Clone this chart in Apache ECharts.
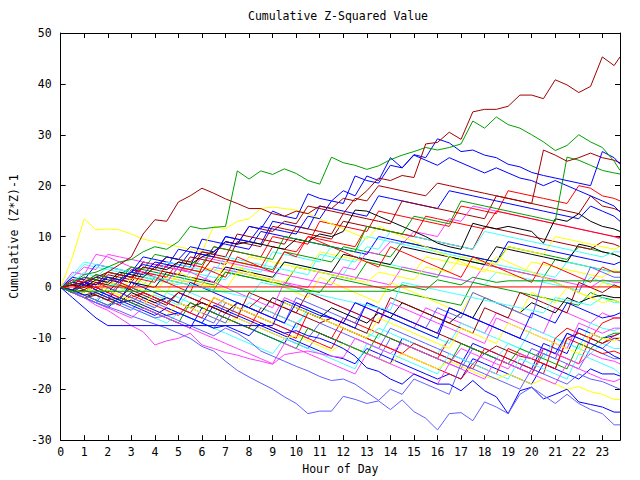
<!DOCTYPE html>
<html>
<head>
<meta charset="utf-8">
<script src="https://cdn.jsdelivr.net/npm/echarts@6/dist/echarts.min.js"></script>
<style>html,body{margin:0;padding:0;background:#fff;}#c{width:640px;height:480px;}</style>
</head>
<body>
<div id="c"></div>
<script>
// ---- data ----
const chartTitle = 'Cumulative Z-Squared Value';
const xName = 'Hour of Day';
const yName = 'Cumulative (Z*Z)-1';
const xTicks = [0,1,2,3,4,5,6,7,8,9,10,11,12,13,14,15,16,17,18,19,20,21,22,23];
const yTicks = [-30,-20,-10,0,10,20,30,40,50];
const hours = [0,0.5,1,1.5,2,2.5,3,3.5,4,4.5,5,5.5,6,6.5,7,7.5,8,8.5,9,9.5,10,10.5,11,11.5,12,12.5,13,13.5,14,14.5,15,15.5,16,16.5,17,17.5,18,18.5,19,19.5,20,20.5,21,21.5,22,22.5,23,23.5,23.75];

const s01 = [0,0.5,1,2,3,4.5,6,10.5, 13.3,13,16.8,18,19.5,18.5,17.4,16.5, 15.5,15.5,14.5,14,15,14.5,16,15.5, 17.5,17,19,21.5,21,22,21.6,28.2, 28.5,30.5,29.1,34.5,35,35,35.6,37.8, 37.8,37.1,40.8,39.8,38.3,39.5,45.3,43.6, 45.3];
const s02 = [0,1,2.5,3,4,5,5.5,7, 8,7.5,9,12,11.5,11.8,12,22.9, 21.3,22.9,22.2,23.3,22.4,21,20.3,25.6, 24.5,24,23.2,23.9,25.1,26,26.7,27.5, 27,27.5,28.2,32.7,31.3,33.5,32,31.3, 30,28.6,26.9,27.9,30,28.6,27.5,24.8, 23];
const s03 = [0,-0.5,1,0.5,2,1.5,3,4.5, 4,6,5.5,8,7.5,7,9,8.5, 12,11.5,15,14,13.5,18.4,17.5,17, 19,18,21.9,21,25.5,23.5,26.1,25.5, 29.2,28.4,26.7,27,26,25.5,24.2,23.7, 22.6,22,21.5,21,20.5,20,26.7,25.5, 24.2];
const s04 = [0,0.5,-0.5,1,0.5,2.5,2,4, 3.5,6,5.5,5,7,6.5,9,8.5, 12,11.5,11,13,12.5,16,15.5,15, 14.5,17.5,17,20,19.5,19,18.5,18, 20.5,20,19.5,19,18.5,18,17.5,17, 16.5,27,26,24.8,25.5,26.4,25.5,25, 24.5];
const s05 = [0,1,0.5,2,1.5,1,3,2.5, 5,4.5,4,7,6.5,6,10,9.5, 9,12,11.5,11,10.5,14,13.5,17, 16.5,21.9,21,20.5,24,23.5,26,25, 24,25.5,24.5,23.5,22.5,23.5,22.5,21.5, 21,20,21,20,19,18,17,16, 14.8];
const s06 = [0,-0.5,1,0.5,3,2.5,2,1.5, 1,4.5,4,3.5,3,6,5.5,5, 4.5,4,8,7.5,7,10,9.5,9, 8.5,8,12,11.5,11,10.5,10,14, 13.5,13,12.5,12,11.5,15,14.5,14, 13.5,13,12.5,12,11.5,11,10.5,10, 9.8];
const s07 = [0,0.5,0,1.5,1,3,2.5,2, 4,3.5,5,4.5,6,7,9,8.5, 9,8.5,8,7.5,9.5,9,10.5,10, 11,15.2,15,14,13,12,11,10, 8.7,8,7.5,12.6,12,11.5,12,11.5, 11,8.7,13.5,13,14.5,13,12,11.5, 11];
const s11 = [0,-1,-2,-3,-3.8,-4.6,-5.6,-6.4, -7.2,-8,-9,-10,-11.6,-12.5,-14.5,-16.3, -17.6,-18.8,-20,-21.5,-22.8,-24.8,-24.3,-24.3, -21.4,-22,-22.8,-22.3,-24,-22.1,-24.4,-25.7, -28,-24.8,-24.6,-26.2,-22.5,-23.5,-24.8,-21, -19.6,-21.2,-22.8,-21,-22.8,-24,-24.8,-27, -27];
const s12 = [0,-0.5,-1.5,-1,-2,-3,-2.5,-3.5, -4.5,-5.5,-5,-6,-7,-8,-7.5,-8.5, -9.5,-7,-8,-9,-8.5,-9.5,-10,-10.9, -12,-13.5,-15.8,-16.5,-18,-19,-17,-18, -19,-19,-20.3,-18.3,-20.3,-21.5,-24.8,-20.3, -19.6,-21.9,-21,-20,-22.5,-23,-23.5,-24.5, -24.5];
const s13 = [0,-1,-1.5,-2.5,-3.5,-3,-4,-5, -6,-5.5,-6.5,-7.5,-8.5,-9.5,-8,-9, -10.5,-12.5,-13.5,-14.5,-15.5,-16.4,-17.5,-18.3, -18,-19,-20.6,-22.2,-20,-21,-18,-19, -20,-21,-15,-16,-17,-18,-19,-20, -16,-17,-18,-19,-17,-18,-18.5,-19.5, -20];
const s14 = [0,6,13.5,11.3,11.5,11.3,10.5,9.5, 9,8.5,8,7.5,7,12,11.5,13, 13.5,15.5,15.8,15.5,15.2,14.5,13.5,12.5, 11.5,10.5,9.5,12,11,10,9,8, 7,6,5,4,3,6,5,4, 3,2,1,0,-1,-2,-3,-2.5, -3];
const s15 = [0,-1,-2,-3.5,-4.5,-6,-7.5,-8.7, -11.3,-10.5,-10,-9,-11.3,-12,-12.8,-13.3, -14,-14.5,-15.1,-13.2,-12.8,-12.5,-13,-13.5, -13.8,-10,-11,-12,-13,-11,-12,-13, -14,-15,-12,-13,-14,-15,-16,-13, -14,-12,-13,-14,-15,-13,-14,-14.5, -15];
const s16 = [0,0.5,-0.5,-1.5,1,0,-1,-2, -1.5,-2.5,-3.5,-1,-2,-3,-4,-5, -3,-4,-5,-6,-7,-5,-6,-7, -8,-9,-10,-8,-9,-10,-11,-12, -13,-10,-11,-12,-13,-14,-11,-12, -13,-14,-10,-11,-12,-13,-11,-12, -12];
const s17 = [0,-1,-0.5,-1.5,-2.5,-2,0,-1, -2,-3,-1,-2,-3,-4,-5,-3, -4,-2,-3,-4,-5,-6,-7,-6, -7,-8,-9,-4,-5,-6,-7,-8, -9,-10,-11,-12,-13,-11.5,-12.5,-13.5, -14,-15,-16,-10,-9,-10,-11,-10, -10];
const s18 = [0,-0.5,1.5,1,0,-1,-2,-1, -2,-3,-4,-5,-2,-3,-4,-5, -6,-7,-8,-9,-10,-5,-6,-7, -8,-9,-10,-11,-12,-13,-11,-12, -13,-14,-15,-16,-12,-13,-14,-15, -16,-17,-10,-8,-9,-10,-7,-6, -6];
const s19 = [0,1,2,1.5,3,2.5,4,3.5, 3,2.5,2,1.5,1,0.5,3,2.5, 2,1.5,1,0.5,0,-0.5,-1,2, 1.5,1,0.5,0,-0.5,-1,-1.5,-2, -2.5,-3,-3.5,1,0.5,0,-0.5,-1, -1.5,-2,-2.5,-3,-3.5,-1,-2,-2.5, -3];
const s20 = [0,2,4,3.5,6.5,6,5.5,5, 4.5,4,3.5,3,6,5.5,5,4.5, 4,3.5,3,2.5,2,1.5,1,0.5, 4,3.5,7,6.5,9,8.5,11,10.5, 10,13.5,13,16,15.5,15,14.5,14, 13.5,13,12.5,12,11.5,11,10.5,10, 9.5];
const s21 = [0,2,4.5,4,3.5,3,2.5,2, 1.5,1,0.5,3,2.5,2,1.5,4, 3.5,3,7,6.5,6,5.5,5,8, 7.5,7,10,9.5,9,8.5,8,7.5, 7,6.5,6,5.5,5,4.5,4,3.5, 3,2.5,2,5,4.5,4,3.5,3, 3];
const s22 = [0,-0.5,-1,1.5,1,0.5,0,-0.5, -1,2,1.5,1,0.5,0,-0.5,3, 2.5,2,1.5,1,4,3.5,3,2.5, 2,1.5,1,3,2.5,2,1.5,4, 3.5,3,6,5.5,5,4.5,8,7.5, 7,6.5,10,9.5,9,8.5,8,7.5, 8];
const s23 = [0,-1,0.5,-0.5,-1.5,-2.5,-3.5,-4.5, -5.5,-4,-5,-6,-7,-3.5,-4.5,-5.5, -6.5,-7.5,-8.5,-9.5,-10.5,-11.5,-12.5,-13.5, -14,-15,-12,-13,-14,-15,-16,-17, -18,-17,-18,-14,-15,-16,-17,-18, -19,-15,-16,-17,-18,-16,-17,-17, -17.4];
const s24 = [0,1,0,-1,-2,1,0,-1, -2,-3,-4,-5,-6,-7,-3,-4, -5,-6,-7,-8,-9,-10,-7,-8, -9,-10,-11,-12,-8,-9,-10,-11, -12,-13,-14,-15,-13,-14,-15,-16, -12,-13,-14,-9,-10,-11,-12,-10, -10.5];
const s25 = [0,-1,-2,-1,-2,-3,-1,-2, -3,-2,-3,-4,-3,-4,-5,-3, -4,-5,-2,-3,-4,-5,-6,-4, -5,-6,-7,-5,-6,-3,-4,-5, -6,-7,-5,-6,-2,-3,-4,-5, -3,-4,-5,-2,-3,-2,-1.5,-2, -2];
const s26 = [0,-1,1,2.5,2,1.5,4,3.5, 6.5,6,5.5,5,4.5,8,7.5,7, 6.5,6,5.5,10,9.5,9,8.5,8, 7.5,7,12,11.5,11,10.5,14,13.5, 13,12.5,17,16.5,16,15.5,15,14.5, 14,13.5,13,25.6,25,24,23,22.5, 22.3];
const s27 = [0,1.5,1,0,-1,-2,-3,-1, -2,-3,-4,-5,-6,-2,-3,-4, -5,-6,-7,-8,-9,-10,-11,-12, -8,-9,-10,-11,-12,-13,-14,-15, -16,-17,-18,-15,-16,-17,-12,-13, -14,-15,-16,-10,-11,-12,-13,-12.5, -13];
const s28 = [0,-1,-2,-3,-2,-3,-4,-5, -6,-7,-5,-6,-7,-8,-9,-10, -11,-12,-13,-10,-11,-12,-13,-14, -15,-16,-11,-12,-13,-14,-15,-16, -17,-13,-14,-15,-16,-17,-18,-14, -15,-16,-17,-18,-13,-14,-15,-16, -17];
const s29 = [0,3,2.5,6.5,6,5,4,3, 2,1,4,3,2,1,0,-1, -2,-3,-4,1,0,-1,-2,-3, -4,-5,-6,-7,-3,-4,-5,-6, -7,-8,-9,-10,-11,-6,-7,-8, -9,-10,-11,-12,-7,-8,-9,-8, -8];
const s30 = [0,-0.5,-1.5,-1,-2,-3,-2.5,-3.5, -4.5,-5.5,-3,-4,-5,-6,-7,-6, -7,-8,-9,-10,-9.5,-10.5,-11.5,-12.5, -11,-12,-13,-14,-15,-13,-14,-15, -16,-14.5,-15.5,-16.5,-17.5,-18,-17,-18, -19,-18,-19,-20,-19.5,-20.5,-21,-22, -22];
const s31 = [0,1,0,-1,-0.5,-1.5,2,1, 0,-1,3,2,1,0,5,4, 3,2,1,0,-1,-2,2,1, 0,-1,-2,-3,1,0,-1,-2, -3,-4,-5,-1,-2,-3,-4,-5, -1,-2,-3,0,-1,-2,1,0, 0];
const s32 = [0,-1,-2,-1.5,-2.5,0.5,-0.5,-1.5, -2.5,-3.5,-1,-2,-3,-4,-5,-6, -1,-2,-3,-4,-5,-1,-2,-3, -4,-5,-6,-7,-2,-3,-4,-5, -6,-7,-8,-9,-4,-5,-6,-1, -2,-3,-4,-5,1,0,-1,0.5, 0];
const s33 = [0,2,1.5,4.5,4,3.5,3,6, 5.5,5,4.5,4,9.5,9,8.5,8, 7.5,11,10.5,10,9.5,9,8.5,8, 7.5,7,6.5,10,9.5,9,8.5,8, 7.5,7,6.5,6,5.5,5,9,8.5, 8,7.5,7,6.5,6,5.5,5,4.5, 5];
const s34 = [0,-1,-2,-3,0,-1,-2,-3, -4,-2,-3,-4,-5,-6,-7,-3, -4,-5,-6,-7,-2,-3,-4,-5, -6,-7,-3,-4,-5,-6,-7,-8, -4,-5,-6,-1,-2,-3,-4,-5, -6,2,1,0,-1,4,3,2, 2];
const s35 = [0,-0.5,-1.5,-2.5,-3.5,-2,-3,-4, -5,-6,-7,-3,-4,-5,-6,-7, -8,-9,-10,-11,-12,-8,-9,-10, -11,-12,-13,-9,-10,-11,-12,-13, -14,-15,-11,-12,-13,-14,-15,-12, -13,-14,-15,-16,-11,-12,-10,-9, -9];
const s36 = [0,-1,-2,-3,-4,-5,-6,-4, -5,-6,-7,-8,-9,-10,-11,-12, -13,-14,-15,-11,-12,-13,-14,-15, -16,-17,-13,-14,-15,-16,-17,-18, -19,-15,-16,-17,-18,-14,-15,-16, -17,-18,-19,-15,-16,-17,-18,-18.5, -18];
const s37 = [0,1,3,2,4,3.5,3,2.5, 2,5,4.5,4,3.5,3,6,5.5, 5,4.5,4,3.5,3,2.5,6.5,6, 5.5,5,8,7.5,11,10.5,10,9.5, 9,8.5,8,7.5,11,10.5,10,9.5, 9,8.5,8,7.5,7,6.5,6,7, 7];
const s38 = [0,1,0.5,-0.5,2,1,0,3, 2,1,0,-1,4,3,2,6, 5,4,3,7,6,10,9,8, 7,6,5,4,8,7,6,5, 4,3,2,6,5,4,3,2, 1,5,4,3,2,1,4,3, 3];
const s39 = [0,-1,-2,0.5,-0.5,-1.5,-2.5,-3.5, -1,-2,-3,-4,-5,-2,-3,-4, -5,-6,-7,-3,-4,-5,-6,-7, -8,-9,-10,-6,-7,-8,-9,-10, -11,-12,-8,-9,-10,-11,-7,-8, -9,-10,-11,-12,-13,-9,-10,-10.5, -10];
const s40 = [0,0.5,1,-0.5,-1.5,-2.5,1,0, -1,-2,-3,1,0,-1,-2,-3, -4,-5,-6,-7,-3,-4,-5,-6, -7,-8,-3,-4,-5,-6,-7,-8, -9,-4,-5,-6,-7,-8,-9,-10, -5,-6,-7,-3,-4,-5,-6,-5.5, -5];
const s41 = [0,2.5,5,4.5,4,3.5,3,2.5, 2,1.5,1,0.5,0,-0.5,-1,-1.5, -2,1,0.5,0,-0.5,-1,-1.5,-2, -2.5,-3,-3.5,-4,-4.5,1,0.5,0, -0.5,-1,-1.5,-2,-2.5,-3,-3.5,-4, -4.5,-5,-2,-2.5,-3,-3.5,-2,-3, -3];
const s42 = [0,1.5,1,0.5,3,2.5,2,5, 4.5,4,7.5,7,6.5,6,10,9.5, 9,8.5,13,12.5,12,11.5,16,15.5, 15,14.5,14,18,17.5,17,16.5,16, 15.5,19,18.5,18,17.5,17,16.5,16, 15.5,15,14.5,14,13.5,16,15,14, 13];
const s43 = [0,-0.5,1,2.5,2,1.5,1,4, 3.5,3,2.5,6,5.5,5,4.5,9, 8.5,8,12,11.5,11,10.5,10,9.5, 13,12.5,12,11.5,11,10.5,10,9.5, 9,8.5,8,7.5,12,11.5,11,10.5, 10,9.5,9,8.5,8,7.5,9,8.5, 8];
const s44 = [0,0.5,2,1.5,1,0.5,3.5,3, 2.5,2,5,4.5,4,8,7.5,7, 6.5,6,10,9.5,9,8.5,13,12.5, 12,11.5,11,15,14.5,14,13.5,13, 12.5,12,16,15.5,15,14.5,19,18.5, 18,17.5,17,16.5,20,19.5,18,17.5, 17];
const s45 = [0,-0.5,-1,1,0.5,0,-0.5,2, 1.5,1,4,3.5,3,6,5.5,5, 4.5,4,3.5,7,6.5,6,5.5,5, 8,7.5,7,6.5,6,9,8.5,8, 7.5,7,6.5,6,5.5,5,8,7.5, 7,6.5,6,5.5,8,7.5,7,6.5, 6];
const s46 = [0,1,0.5,2.5,2,1.5,1,0.5, 3,2.5,2,1.5,1,4,3.5,3, 2.5,2,1.5,5,4.5,4,3.5,3, 2.5,6,5.5,5,4.5,4,3.5,3, 2.5,2,1.5,1,0.5,3,2.5,2, 1.5,1,0.5,0,-0.5,2,1,0.5, 0];
const s47 = [0,-1,1,0,-1,-2,0,-1, -2,-3,-1,-2,-3,-4,-2,-3, -4,-5,-6,-2,-3,-4,-5,-6, -7,-3,-4,-5,-6,-7,-8,-4, -5,-6,-7,-8,-9,-5,-6,-7, -8,-9,-4,-5,-6,-7,-5,-6, -6];
const s48 = [0,0.5,0,2,1.5,1,3,2.5, 2,1.5,1,0.5,4,3.5,3,2.5, 6,5.5,5,4.5,4,3.5,7,6.5, 6,5.5,5,4.5,4,3.5,3,6, 5.5,5,4.5,4,3.5,3,2.5,2, 5,4.5,4,3.5,3,2.5,2,3.5, 3];
const s49 = [0,-1,-2,-1.5,-2.5,-3.5,-4.5,-2, -3,-4,-5,-6,-7,-8,-5,-6, -7,-8,-9,-10,-11,-12,-9,-10, -11,-12,-13,-14,-10,-11,-12,-13, -14,-15,-16,-12,-13,-14,-15,-16, -17,-13,-14,-15,-16,-12,-13,-14, -14];
const s50 = [0,-0.5,0.5,0,-1,1.5,1,0.5, 0,3,2.5,2,1.5,1,4,3.5, 3,2.5,2,5,4.5,4,3.5,3, 6.5,6,5.5,5,4.5,8,7.5,7, 6.5,6,5.5,5,4.5,8,7.5,7, 6.5,6,5.5,5,8.5,8,7,6.5, 6];
const s51 = [0,-1,-2,-3,-4,-2,-3,-4, -5,-6,-7,-8,-4,-5,-6,-7, -8,-9,-10,-11,-7,-8,-9,-10, -11,-12,-13,-14,-15,-10,-11,-12, -13,-14,-15,-11,-12,-13,-14,-15, -16,-11,-12,-13,-8,-9,-10,-9.5, -9];
const s52 = [0,-1,-0.5,-1.5,-2.5,-3.5,-1.5,-2.5, -3.5,-4.5,-5.5,-3,-4,-5,-6,-7, -8,-4,-5,-6,-7,-8,-9,-10, -6,-7,-8,-9,-10,-11,-12,-13, -14,-10,-11,-12,-13,-14,-15,-16, -17,-12,-13,-14,-15,-10,-11,-9.5, -9];
const s53 = [0,1,0.5,0,2.5,2,1.5,5, 4.5,4,3.5,3,7,6.5,6,10.5, 10,9.5,9,8.5,12,11.5,11,10.5, 14.5,14,13.5,13,12.5,17,16.5,16, 15.5,15,14.5,14,13.5,18,17.5,17, 16.5,16,15.5,15,14.5,18,16,15.5, 15];
const s54 = [0,-0.5,-1.5,-2.5,0,-1,-2,-3, -4,-1,-2,-3,-4,-5,-2,-3, -4,-5,-6,-7,-8,-4,-5,-6, -7,-8,-9,-10,-6,-7,-8,-9, -10,-11,-7,-8,-9,-10,-11,-12, -8,-9,-10,-11,-12,-7,-8,-8.5, -8];
const s55 = [0,0.5,-0.5,-1.5,1,0.5,0,-1, 2,1.5,1,0.5,0,-0.5,3,2.5, 2,1.5,1,0.5,4,3.5,3,2.5, 2,1.5,5,4.5,4,3.5,3,2.5, 2,6,5.5,5,4.5,4,3.5,3, 2.5,2,5.5,5,4.5,4,3.5,3, 3];
const s56 = [0,1,2,1.5,1,0.5,3.5,3, 2.5,2,1.5,1,0.5,4,3.5,3, 2.5,2,1.5,1,0.5,0,3.5,3, 2.5,2,1.5,1,0.5,4,3.5,3, 2.5,2,1.5,1,4.5,4,3.5,3, 2.5,2,1.5,1,0.5,0,1.5,1, 1];

// series with gaps in the record: [hour, value] points only where present
const p08 = [[0,0],[0.5,0.1],[23.75,0.1]];
const p09 = [[0,0],[0.5,-0.75],[14,-0.75],[14.5,0.5],[15,0],[15.5,-0.5],[16,1.5],[16.5,1],[17,0.5],[17.5,2],[18,1.5],[18.5,1],[19,1.3],[23.75,1.3]];
const p10 = [[0,0],[0.5,-2],[1,-4],[1.5,-6],[2,-7.5],[9,-7.5],[9.5,-2.5],[10,-3.5],[10.5,-4.5],[11,-5.5],[11.5,-6],[12,-7],[12.5,-3],[13,-4],[13.5,-5],[14,-6],[14.5,-7],[15,-8],[15.5,-9],[16,-10],[16.5,-4],[17,-5],[17.5,-6],[18,-7],[18.5,-8],[19,-9],[19.5,-10],[20,-11],[20.5,-12],[21,-13],[21.5,-9],[22,-10],[22.5,-11],[23,-12],[23.5,-13.5],[23.75,-14]];

// ---- styles ----
const COL = {R:'#ff0000', G:'#00a000', B:'#0000ff', M:'#ff40ff', C:'#40ffff', D:'#a00000', Y:'#ffff00', K:'#000000', S:'#6060ff'};
const defs = [
  [s46,'C'],[s47,'M'],[s48,'Y'],[s55,'G'],[s56,'M'],[s54,'C'],[s49,'S'],[s51,'B'],
  [s52,'R'],[s45,'G'],[s50,'K'],[s43,'D'],[s44,'R'],[s42,'B'],[s53,'D'],
  [s16,'C'],[s17,'D'],[s18,'R'],[s19,'G'],[s20,'M'],[s21,'C'],[s22,'Y'],[s23,'B'],
  [s24,'S'],[s25,'K'],[s27,'R'],[s28,'C'],[s29,'M'],[s30,'Y'],[s31,'Y'],[s32,'D'],
  [s33,'B'],[s34,'S'],[s35,'G'],[s36,'M'],[s37,'C'],[s38,'R'],[s39,'Y'],[s40,'B'],
  [s41,'C'],[s15,'M'],[s13,'S'],[s12,'B'],[s11,'S'],[s14,'Y'],[s06,'R'],[s07,'K'],
  [s05,'B'],[s26,'G'],[s04,'D'],[s03,'B'],[s02,'G'],[s01,'D'],
  [p08,'R'],[p09,'G'],[p10,'B']
];

const FONT = 'DejaVu Sans Mono';
let bad = 0;
const series = defs.map(([arr, c], i) => {
  let data;
  if (Array.isArray(arr[0])) data = arr;
  else { if (arr.length !== hours.length) bad++; data = hours.map((h, k) => [h, arr[k]]); }
  return {type:'line', data, showSymbol:false, symbol:'none', silent:true, animation:false,
          lineStyle:{width:1, color:COL[c]}, itemStyle:{color:COL[c]}, z:2};
});

const axisCommon = {axisLine:{show:true, onZero:false, lineStyle:{color:'#000', width:1}},
  axisTick:{show:true, inside:true, length:5, lineStyle:{color:'#000', width:1}},
  splitLine:{show:false}};
const chart = echarts.init(document.getElementById('c'), null, {renderer:'svg'});
chart.setOption({
  backgroundColor:'#fff',
  animation:false,
  title:{show:false},
  graphic:[{type:'text', x:338, y:16, style:{text: chartTitle + (bad ? ' !LEN' + bad : ''), fill:'#000', font:'11.5px "DejaVu Sans Mono"', textAlign:'center', textVerticalAlign:'middle'}}],
  grid:{left:50, right:20, top:33, bottom:33, containLabel:false},
  xAxis:[
    Object.assign({type:'value', position:'bottom', min:0, max:23.75, interval:1,
      axisLabel:{color:'#000', fontFamily:FONT, fontSize:11.5, margin:6,
        formatter:(v)=> xTicks.indexOf(v) >= 0 ? String(v) : ''},
      name:xName, nameLocation:'middle', nameGap:20,
      nameTextStyle:{color:'#000', fontFamily:FONT, fontSize:11.5}}, axisCommon),
    Object.assign({type:'value', position:'top', min:0, max:23.75, interval:1,
      axisLabel:{show:false}}, axisCommon)
  ],
  yAxis:[
    Object.assign({type:'value', position:'left', min:-30, max:50, interval:10,
      axisLabel:{color:'#000', fontFamily:FONT, fontSize:11.5, margin:9,
        formatter:(v)=> yTicks.indexOf(v) >= 0 ? String(v) : ''},
      name:yName, nameLocation:'middle', nameGap:34, nameRotate:90,
      nameTextStyle:{color:'#000', fontFamily:FONT, fontSize:11.5}}, axisCommon),
    Object.assign({type:'value', position:'right', min:-30, max:50, interval:10,
      axisLabel:{show:false}}, axisCommon)
  ],
  series: series
});
</script>
</body>
</html>
